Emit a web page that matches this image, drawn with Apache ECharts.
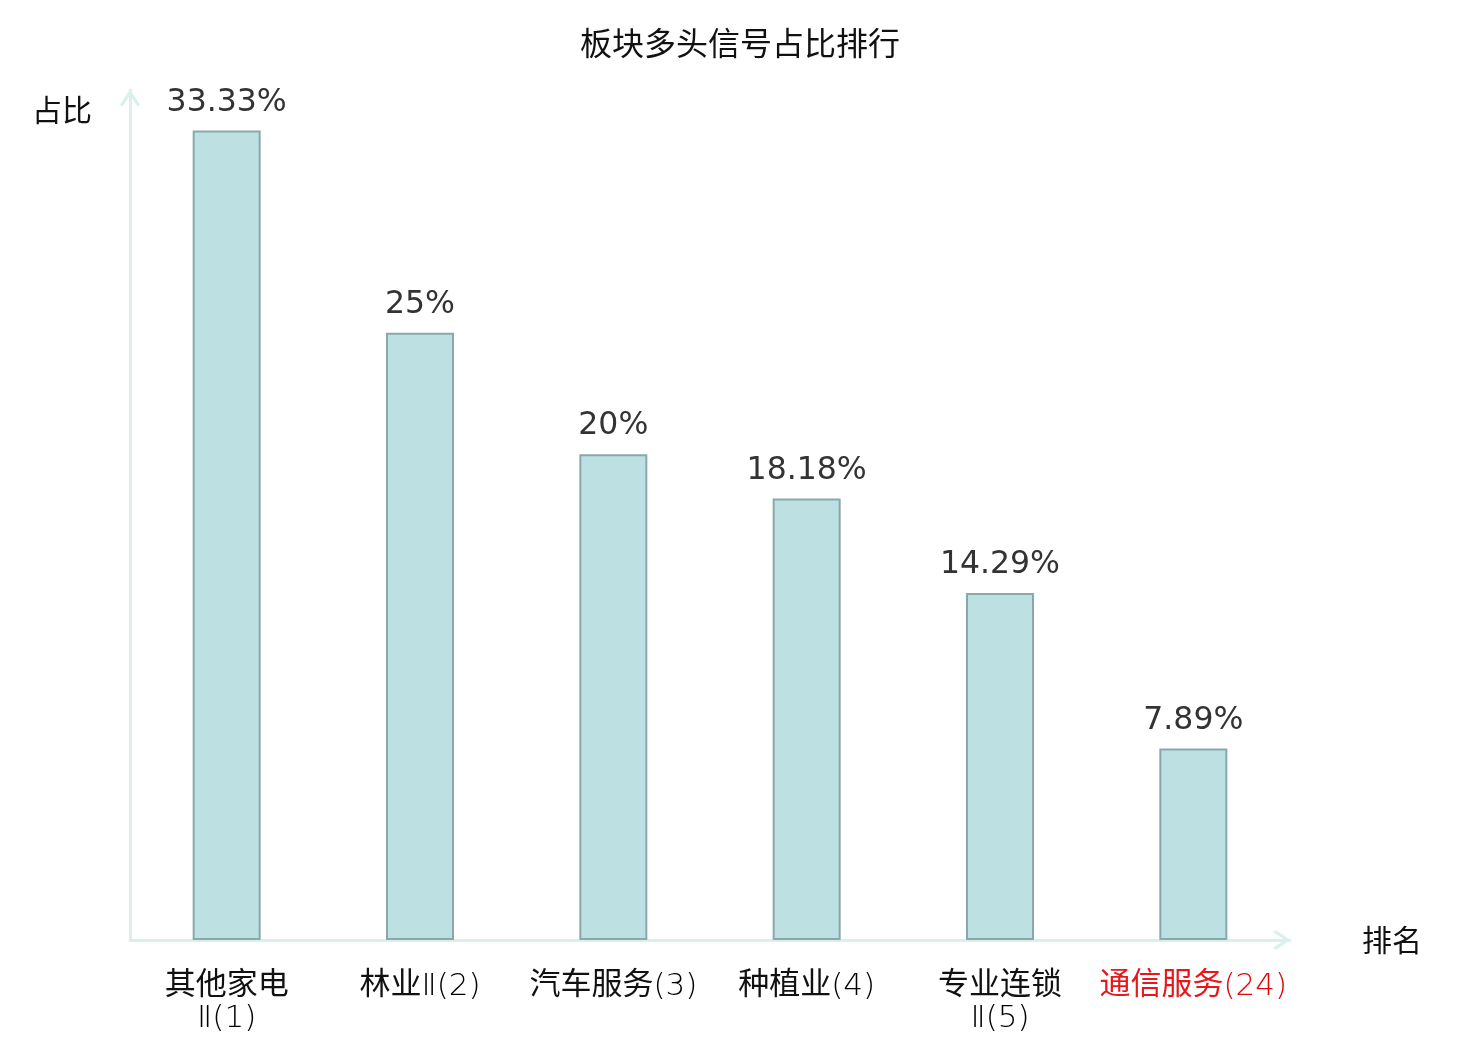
<!DOCTYPE html>
<html>
<head>
<meta charset="utf-8">
<script src="https://cdn.jsdelivr.net/npm/echarts@6/dist/echarts.min.js"></script>
<style>
  html, body { margin: 0; padding: 0; background: #fff; }
  #main { width: 1480px; height: 1040px; }
</style>
</head>
<body>
<div id="main"></div>
<script>
// 板块多头信号占比排行
var categories = ['其他家电Ⅱ(1)', '林业Ⅱ(2)', '汽车服务(3)', '种植业(4)', '专业连锁Ⅱ(5)', '通信服务(24)'];
var ratios = [33.33, 25, 20, 18.18, 14.29, 7.89];
var ratioLabels = ['33.33%', '25%', '20%', '18.18%', '14.29%', '7.89%'];
var highlightName = '通信服务(24)';

var chevron = 'path://M10,0 L20,15 L17.4,17 L10,5.6 L2.6,17 L0,15 Z';
var axisColor = '#d9f0ed';
var cjkFont = 'Noto Sans CJK SC';
var latinFont = 'DejaVu Sans';

// 中文用常规字重，其余字符用细体
function richName(text, red) {
    var parts = text.match(/[\u4e00-\u9fff]+|[^\u4e00-\u9fff]+/g) || [];
    return parts.map(function (p) {
        var key = /[\u4e00-\u9fff]/.test(p) ? 'c' : 'l';
        return '{' + key + (red ? 'r' : '') + '|' + p + '}';
    }).join('');
}

var RankChart = echarts.init(document.getElementById('main'));
var BarOption = {
    title: {
        text: '板块多头信号占比排行',
        left: 'center',
        top: 22,
        textStyle: {
            color: '#111',
            fontSize: 32,
            fontWeight: 'normal',
            fontFamily: cjkFont
        }
    },
    grid: {
        left: 130,
        right: 190,
        top: 90,
        bottom: 100
    },
    xAxis: {
        type: 'category',
        data: categories,
        name: '排名',
        nameGap: 72,
        nameTextStyle: {
            color: '#111',
            fontSize: 30,
            fontFamily: cjkFont
        },
        axisLine: {
            lineStyle: { color: axisColor, width: 3 },
            symbol: ['none', chevron],
            symbolSize: [20, 17],
            symbolOffset: [0, -8]
        },
        axisTick: { show: false },
        axisLabel: {
            interval: 0,
            margin: 26,
            fontSize: 31,
            lineHeight: 32,
            color: '#111',
            formatter: function (value) {
                var red = value === highlightName;
                // 名称过长时在Ⅱ前换行
                var idx = value.indexOf('Ⅱ');
                if (idx >= 4) {
                    return richName(value.slice(0, idx), red) + '\n' + richName(value.slice(idx), red);
                }
                return richName(value, red);
            },
            rich: {
                c: { fontSize: 31, lineHeight: 32, fontFamily: cjkFont, color: '#111' },
                l: { fontSize: 31, lineHeight: 32, fontFamily: latinFont, fontWeight: 300, color: '#000', padding: [10, 0, 0, 0] },
                cr: { fontSize: 31, lineHeight: 32, fontFamily: cjkFont, color: '#e8171b' },
                lr: { fontSize: 31, lineHeight: 32, fontFamily: latinFont, fontWeight: 300, color: '#e0060b', padding: [10, 0, 0, 0] }
            }
        }
    },
    yAxis: {
        type: 'value',
        min: 0,
        max: 35,
        name: '占比',
        nameGap: -20,
        nameTextStyle: {
            color: '#111',
            fontSize: 30,
            fontFamily: cjkFont,
            align: 'right',
            verticalAlign: 'middle',
            padding: [0, 38, 0, 0]
        },
        axisLine: {
            show: true,
            lineStyle: { color: axisColor, width: 3 },
            symbol: ['none', chevron],
            symbolSize: [20, 17],
            symbolOffset: [0, -8]
        },
        axisTick: { show: false },
        axisLabel: { show: false },
        splitLine: { show: false }
    },
    series: [
        {
            name: '占比',
            type: 'bar',
            barWidth: 68,
            data: ratios,
            itemStyle: {
                color: '#bde0e3',
                borderColor: '#8aa8a9',
                borderWidth: 2
            },
            label: {
                show: true,
                position: 'top',
                distance: 12,
                fontSize: 31.5,
                fontFamily: latinFont,
                color: '#333',
                formatter: function (params) {
                    return ratioLabels[params.dataIndex];
                }
            }
        }
    ]
};
RankChart.setOption(BarOption);
</script>
</body>
</html>
